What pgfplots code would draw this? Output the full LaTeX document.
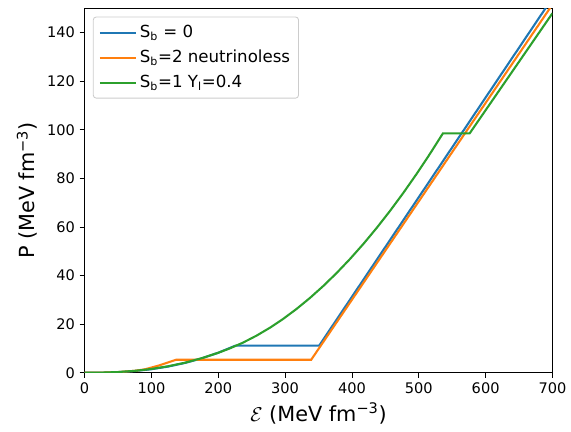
\documentclass[border=0pt]{standalone}
\usepackage{pgfplots}
\pgfplotsset{compat=1.18}
\usepackage{fontspec}
\setmainfont{DejaVu Sans}

\definecolor{mplblue}{HTML}{1F77B4}
\definecolor{mplorange}{HTML}{FF7F0E}
\definecolor{mplgreen}{HTML}{2CA02C}

\begin{document}
\begin{tikzpicture}
\begin{axis}[
    name=ax,
    scale only axis,
    width=337.4pt, height=262.8pt,
    xmin=0, xmax=700, ymin=0, ymax=150,
    xtick={0,100,...,700}, ytick={0,20,...,140},
    tick align=outside, tick pos=left,
    major tick length=3.5pt,
    every tick/.style={black, line width=0.6pt},
    axis line style={line width=0.6pt},
    /pgf/number format/assume math mode=true,
    tick label style={font=\fontsize{10.5}{12}\selectfont},
    xlabel={$\mathcal{E}$ (MeV fm\textsuperscript{−3})},
    ylabel={P (MeV fm\textsuperscript{−3})},
    label style={font=\fontsize{15}{18}\selectfont},
    legend cell align=left,
    legend style={at={(0,1)}, anchor=north west, xshift=6pt, yshift=-6pt,
        draw=black!20, rounded corners=2pt, line width=0.6pt,
        font=\fontsize{12}{14}\selectfont, row sep=3.5pt,
        inner xsep=4pt, inner ysep=4pt},
    legend image code/.code={\draw[#1] (0pt,0pt) -- (26pt,0pt);},
    every axis plot/.append style={line width=1.5pt},
]
% S_b = 0
\addplot[mplblue] coordinates {
(0,0) (25,0.05) (50,0.26) (75,0.71) (100,1.46) (125,2.55) (150,4.02) (175,5.91)
(200,8.25) (226,11.2) (351,11.2) (700,154.3)
};
% S_b = 2 neutrinoless
\addplot[mplorange] coordinates {
(0,0) (25,0.05) (50,0.27) (75,0.8) (90,1.4) (110,2.9) (137,5.35)
(339,5.35) (700,151.6)
};
% S_b = 1, Y_l = 0.4
\addplot[mplgreen] coordinates {
(0,0) (25,0.06) (50,0.30) (75,0.79) (100,1.57) (125,2.68) (150,4.13) (175,5.98)
(200,8.23) (217,10) (237,12.41) (257,15.24) (277,18.49) (297,22.16) (317,26.25)
(337,30.76) (357,35.69) (377,41.04) (397,46.81) (417,53.0) (437,59.61)
(457,66.64) (477,74.09) (497,81.96) (517,90.25) (536,98.5) (576,98.5) (700,148)
};
\legend{S\textsubscript{b} = 0, S\textsubscript{b}=2 neutrinoless, S\textsubscript{b}=1 Y\textsubscript{l}=0.4}
\end{axis}
\path (ax.south west) ++(-61pt,-42.5pt) (ax.north east) ++(13pt,6pt);
\end{tikzpicture}
\end{document}
